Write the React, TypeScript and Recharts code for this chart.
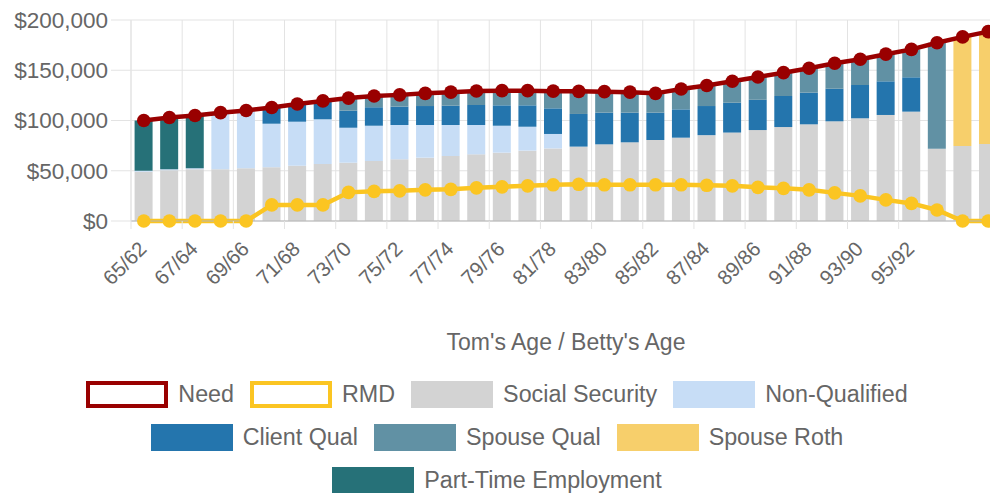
import React from 'react';
import { ComposedChart, Bar, Line, XAxis, YAxis, CartesianGrid } from 'recharts';

const ages = [
  '65/62', '66/63', '67/64', '68/65', '69/66', '70/67', '71/68', '72/69', '73/70', '74/71',
  '75/72', '76/73', '77/74', '78/75', '79/76', '80/77', '81/78', '82/79', '83/80', '84/81',
  '85/82', '86/83', '87/84', '88/85', '89/86', '90/87', '91/88', '92/89', '93/90', '94/91',
  '95/92', '96/93', '97/94', '98/95',
];

// labels the x axis actually shows
const tickLabels = [
  '65/62', '67/64', '69/66', '71/68', '73/70', '75/72', '77/74', '79/76', '81/78',
  '83/80', '85/82', '87/84', '89/86', '91/88', '93/90', '95/92',
];

const needValues = [
  100000, 103000, 105000, 107800, 110000, 113000, 116400, 119500, 122300, 124400,
  125500, 127000, 128200, 129400, 129700, 129700, 129200, 129000, 128700, 128200,
  127000, 131300, 134800, 139000, 143300, 147600, 152000, 157000, 161000, 166000,
  170800, 177400, 183200, 188400,
];

const rmdValues = [
  0, 0, 0, 0, 0, 16000, 16000, 16000, 28500, 29500,
  30000, 31000, 31500, 33000, 34000, 35000, 36000, 36500, 36000, 36000,
  36000, 36000, 35500, 35000, 33500, 32500, 31000, 28000, 25000, 21000,
  17500, 11000, 0, 0,
];

const socialSecurity = [
  49000, 50500, 51500, 51500, 52500, 53500, 55000, 56700, 58000, 59700,
  61400, 63000, 64700, 66300, 68000, 70000, 72200, 74000, 76300, 78300,
  80600, 82900, 85400, 88000, 90500, 93500, 96200, 99200, 102200, 105500,
  108800, 72000, 74600, 76600,
];

const nonQualified = [
  1000, 1000, 1000, 56300, 57500, 43300, 43800, 44500, 34800, 35100,
  34100, 32500, 30800, 29200, 26800, 23800, 14400, 0, 0, 0,
  0, 0, 0, 0, 0, 0, 0, 0, 0, 0,
  0, 0, 0, 0,
];

const clientQual = [
  0, 0, 0, 0, 0, 16200, 17600, 18300, 17000, 18400,
  18300, 18900, 19200, 19900, 20300, 21300, 25500, 32500, 31500, 29500,
  27200, 28200, 29000, 29700, 30100, 30900, 31500, 32400, 33100, 33500,
  34200, 0, 0, 0,
];

const spouseQual = [
  0, 0, 0, 0, 0, 0, 0, 0, 12500, 11200,
  11700, 12600, 13500, 14000, 14600, 14600, 17100, 22500, 20900, 20400,
  19200, 20200, 20400, 21300, 22700, 23200, 24300, 25400, 25700, 27000,
  27800, 105400, 0, 0,
];

const spouseRoth = [
  0, 0, 0, 0, 0, 0, 0, 0, 0, 0,
  0, 0, 0, 0, 0, 0, 0, 0, 0, 0,
  0, 0, 0, 0, 0, 0, 0, 0, 0, 0,
  0, 0, 108600, 111800,
];

const partTime = [
  50000, 51500, 52500, 0, 0, 0, 0, 0, 0, 0,
  0, 0, 0, 0, 0, 0, 0, 0, 0, 0,
  0, 0, 0, 0, 0, 0, 0, 0, 0, 0,
  0, 0, 0, 0,
];

const yTicks = [0, 50000, 100000, 150000, 200000];

const data = ages.map((age, i) => ({
  age,
  need: needValues[i],
  rmd: rmdValues[i],
  ss: socialSecurity[i],
  nq: nonQualified[i],
  cq: clientQual[i],
  sq: spouseQual[i],
  roth: spouseRoth[i],
  pt: partTime[i],
}));

const barSeries = [
  { key: 'ss', name: 'Social Security', color: '#d3d3d3' },
  { key: 'nq', name: 'Non-Qualified', color: '#c7ddf6' },
  { key: 'cq', name: 'Client Qual', color: '#2475ad' },
  { key: 'sq', name: 'Spouse Qual', color: '#6191a4' },
  { key: 'roth', name: 'Spouse Roth', color: '#f7cf6b' },
  { key: 'pt', name: 'Part-Time Employment', color: '#267178' },
];

const legendItems = [
  { name: 'Need', color: '#990000', line: true },
  { name: 'RMD', color: '#fbc522', line: true },
  ...barSeries.map((s) => ({ name: s.name, color: s.color, line: false })),
];

const FONT = '"Liberation Sans", Arial, Helvetica, sans-serif';
const TEXT = '#666';
const GRID = '#e3e3e3';

function fmtMoney(v: number) {
  return '$' + v.toLocaleString('en-US');
}

function AgeTick(props: any) {
  const { x, y, payload, width } = props;
  const half = width / ages.length / 2;
  const ax = x - 1;
  const ay = y + 16;
  return (
    <g>
      <line x1={x - half} x2={x - half} y1={y - 8} y2={y} stroke={GRID} />
      <text
        x={ax}
        y={ay}
        textAnchor="end"
        dy="0.35em"
        fontSize={20.5}
        fill={TEXT}
        fontFamily={FONT}
        transform={`rotate(-45, ${ax}, ${ay})`}
      >
        {payload.value}
      </text>
    </g>
  );
}

function gridColumns({ offset }: any) {
  const band = offset.width / ages.length;
  return tickLabels.map((label) => offset.left + ages.indexOf(label) * band);
}

export default function App() {
  return (
    <div
      style={{
        position: 'absolute',
        left: 0,
        top: 0,
        width: 990,
        height: 493,
        overflow: 'hidden',
        background: '#fff',
        fontFamily: FONT,
      }}
    >
      <ComposedChart
        width={1002}
        height={360}
        data={data}
        margin={{ top: 20, right: 1, bottom: 0, left: 0 }}
        barCategoryGap="14%"
      >
        <CartesianGrid stroke={GRID} verticalCoordinatesGenerator={gridColumns} />
        <XAxis
          dataKey="age"
          ticks={tickLabels}
          interval={0}
          height={139}
          tickSize={8}
          tickMargin={0}
          tickLine={false}
          axisLine={{ stroke: '#b5b5b5' }}
          tick={<AgeTick />}
          label={{ value: "Tom's Age / Betty's Age", position: 'insideBottom', offset: 10, fill: TEXT, fontSize: 23, fontFamily: FONT }}
        />
        <YAxis
          width={131}
          domain={[0, 200000]}
          ticks={yTicks}
          tickFormatter={fmtMoney}
          tickSize={20}
          tickMargin={3}
          tickLine={{ stroke: GRID }}
          axisLine={{ stroke: GRID }}
          tick={{ fontSize: 22.5, fill: TEXT, fontFamily: FONT }}
        />
        {barSeries.map((s) => (
          <Bar key={s.key} dataKey={s.key} name={s.name} stackId="inc" fill={s.color} isAnimationActive={false} />
        ))}
        <Line
          type="linear"
          dataKey="rmd"
          name="RMD"
          stroke="#fbc522"
          strokeWidth={4.5}
          dot={{ r: 6.8, fill: '#fbc522', stroke: '#fbc522', strokeWidth: 0 }}
          isAnimationActive={false}
        />
        <Line
          type="linear"
          dataKey="need"
          name="Need"
          stroke="#990000"
          strokeWidth={4.5}
          dot={{ r: 6.8, fill: '#990000', stroke: '#990000', strokeWidth: 0 }}
          isAnimationActive={false}
        />
      </ComposedChart>
      <div
        style={{
          position: 'absolute',
          left: 17,
          top: 381,
          width: 960,
          display: 'flex',
          flexWrap: 'wrap',
          justifyContent: 'center',
          columnGap: 16,
          rowGap: 16,
        }}
      >
        {legendItems.map((item) => (
          <div key={item.name} style={{ display: 'flex', alignItems: 'center', height: 27 }}>
            <div
              style={{
                width: 82,
                height: 27,
                boxSizing: 'border-box',
                background: item.line ? '#fff' : item.color,
                border: item.line ? `4px solid ${item.color}` : 'none',
              }}
            />
            <span style={{ marginLeft: 10, fontSize: 23.3, color: TEXT, lineHeight: '27px' }}>{item.name}</span>
          </div>
        ))}
      </div>
    </div>
  );
}
